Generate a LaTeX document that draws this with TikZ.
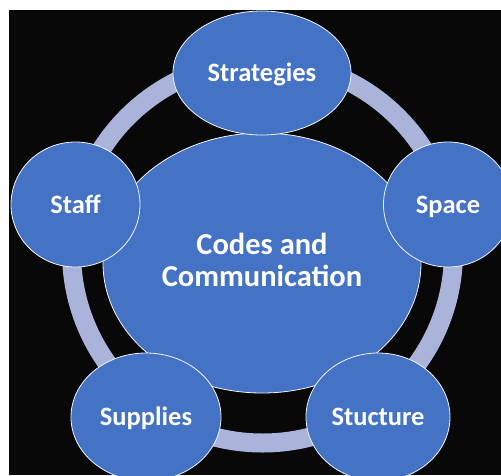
\documentclass[tikz,border=0pt]{standalone}
\usepackage{fontspec}
\setmainfont{Carlito}
\usetikzlibrary{shapes.geometric}
\definecolor{nodeblue}{HTML}{4472C4}
\definecolor{ringblue}{HTML}{AAB4DA}
\definecolor{backdrop}{HTML}{080808}
\begin{document}
\begin{tikzpicture}[x=1pt,y=-1pt,
  bubble/.style={ellipse, draw=white!92!nodeblue, line width=0.8pt, fill=nodeblue,
    inner sep=0pt, text=white, font=\bfseries\fontsize{26.5}{30}\selectfont,
    text height=17pt, text depth=0pt},
  hub/.style={bubble, font=\bfseries\fontsize{30.5}{33}\selectfont, align=center,
    text height=, text depth=6pt}]
\useasboundingbox (0,0) rectangle (501,475);
\clip (0,0) rectangle (501,475);
\fill[backdrop] (9,10) rectangle (501,475);
% connecting ring behind all bubbles
\draw[ringblue, line width=19pt] (262.5,252) circle[radius=191];
% central bubble
\node[hub, minimum width=318pt, minimum height=260pt] (codes) at (262,263)
  {Codes and\\[-1pt]Communication};
% surrounding bubbles
\node[bubble, minimum width=178pt, minimum height=124pt] (strategies) at (262,73) {Strategies};
\node[bubble, minimum width=129pt, minimum height=125pt] (staff) at (75.5,204.5) {Staff};
\node[bubble, minimum width=129pt, minimum height=125pt] (space) at (448,204.5) {Space};
\node[bubble, minimum width=150pt, minimum height=128pt] (supplies) at (146,417) {Supplies};
\node[bubble, minimum width=144pt, minimum height=128pt] (stucture) at (378,417) {Stucture};
\end{tikzpicture}
\end{document}
